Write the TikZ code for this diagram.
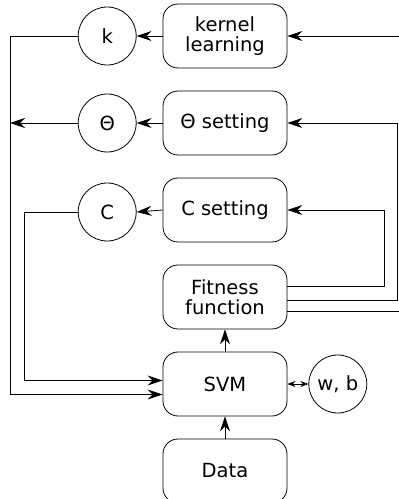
\documentclass[tikz,border=0pt]{standalone}
\usepackage{fontspec}
\setmainfont{DejaVu Sans}
\usetikzlibrary{positioning,arrows.meta}
\tikzset{%
	block/.style  = {draw, rectangle, rounded corners=15pt, minimum width=124pt, minimum height=64pt, align=center, line width=0.8pt, font=\fontsize{19.5}{20.5}\selectfont},
	param/.style  = {draw, circle, minimum size=58pt, inner sep=0pt, line width=0.8pt, font=\fontsize{19.5}{20.5}\selectfont},
	link/.style   = {line width=0.8pt},
	arrow/.style  = {line width=0.8pt, -{Stealth[length=15pt,width=10pt,inset=5pt]}},
	twoway/.style = {line width=0.8pt, {Stealth[length=8pt,width=6pt,inset=2.5pt]}-{Stealth[length=8pt,width=6pt,inset=2.5pt]}},
}
\begin{document}
\begin{tikzpicture}[x=1pt,y=1pt]
	\path[use as bounding box] (0,0) coordinate (sw) rectangle (399,499) coordinate (ne);
	
	\node[block] (kern) at (225,463) {kernel\\learning};
	\node[block, below=22.2pt of kern] (thset) {Θ setting};
	\node[block, below=22.2pt of thset] (cset) {C setting};
	\node[block, below=22.2pt of cset] (fit) {Fitness\\function};
	\node[block, below=22.2pt of fit] (svm) {SVM};
	\node[block, below=22.2pt of svm] (data) {Data};
	
	\node[param, left=26pt of kern] (k) {k};
	\node[param, left=26pt of thset] (th) {Θ};
	\node[param, left=26pt of cset, yshift=-2pt] (c) {C};
	\node[param, right=21pt of svm] (wb) {w, b};
	
	\coordinate (lft) at (10,0);
	\coordinate (lft2) at (24,0);
	\coordinate (rgt1) at (384,0);
	\coordinate (rgt2) at (397,0);
	
	\draw[arrow] (kern.west) -- (k.east);
	\draw[arrow] (thset.west) -- (th.east);
	\draw[arrow] (cset.west) -- (c.east);
	\draw[arrow] (data.north) -- (svm.south);
	\draw[arrow] (svm.north) -- (fit.south);
	\draw[twoway] (svm.east) -- (wb.west);
	
	\draw[arrow] (k.west) -- (k.west -| lft) |- ([yshift=-10.5pt]svm.west);
	\draw[arrow] (th.west) -- (th.west -| lft);
	\draw[arrow] (c.west) -- (c.west -| lft2) |- ([yshift=3.5pt]svm.west);
	
	\draw[arrow] ([yshift=11pt]fit.east) -- ([yshift=11pt]fit.east -| rgt1) |- (cset.east);
	\draw[arrow] ([yshift=-3pt]fit.east) -- ([yshift=-3pt]fit.east -| rgt2) |- (thset.east);
	\draw[link] ([yshift=-14pt]fit.east) -- ([yshift=-14pt]fit.east -| ne);
	\draw[arrow] (kern.east -| ne) -- (kern.east);
\end{tikzpicture}
\end{document}
